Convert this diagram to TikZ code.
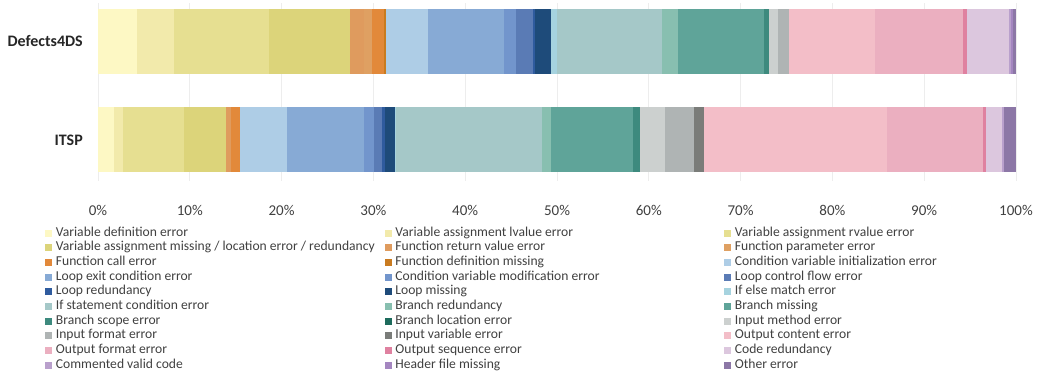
\documentclass[tikz,border=0pt]{standalone}
\usepackage{fontspec}
\setmainfont{Carlito}
\usepackage{tikz}
\usetikzlibrary{positioning}
\definecolor{textgray}{HTML}{404040}
\definecolor{gridgray}{HTML}{EDEDED}
\definecolor{cat1}{HTML}{FDF8C4}
\definecolor{cat2}{HTML}{F2EAAB}
\definecolor{cat3}{HTML}{E6DF91}
\definecolor{cat4}{HTML}{DCD47A}
\definecolor{cat5}{HTML}{DF9B5E}
\definecolor{cat6}{HTML}{DFA062}
\definecolor{cat7}{HTML}{E2893A}
\definecolor{cat8}{HTML}{C97B20}
\definecolor{cat9}{HTML}{AECDE6}
\definecolor{cat10}{HTML}{87AAD5}
\definecolor{cat11}{HTML}{7295CC}
\definecolor{cat12}{HTML}{5A7BB5}
\definecolor{cat13}{HTML}{2F5B9E}
\definecolor{cat14}{HTML}{1E4B7A}
\definecolor{cat15}{HTML}{A6D3DF}
\definecolor{cat16}{HTML}{A5C8C8}
\definecolor{cat17}{HTML}{88BFB0}
\definecolor{cat18}{HTML}{5FA499}
\definecolor{cat19}{HTML}{3D8A7E}
\definecolor{cat20}{HTML}{1D6B5C}
\definecolor{cat21}{HTML}{CCD0CF}
\definecolor{cat22}{HTML}{AFB4B4}
\definecolor{cat23}{HTML}{7A7C79}
\definecolor{cat24}{HTML}{F3BEC8}
\definecolor{cat25}{HTML}{EBAFC0}
\definecolor{cat26}{HTML}{DF81A0}
\definecolor{cat27}{HTML}{DCC7DE}
\definecolor{cat28}{HTML}{B9A0CC}
\definecolor{cat29}{HTML}{A486C0}
\definecolor{cat30}{HTML}{8C77A6}

\begin{document}
\begin{tikzpicture}[x=1pt, y=-1pt,
    swatch/.style={rectangle, 
      minimum size=7pt, 
      inner sep=0pt},
    legtext/.style={anchor=west, 
      inner sep=0pt, 
      text height=9pt, 
      text depth=3pt, 
      text=textgray, 
      font=\fontsize{13.6}{15}\selectfont},
    ticklabel/.style={inner sep=0pt, 
      text=textgray, 
      font=\fontsize{15}{17}\selectfont},
    barlabel/.style={anchor=east, 
      inner sep=0pt, 
      text=black!85, 
      font=\bfseries\fontsize{16}{18}\selectfont}]
  \useasboundingbox (0,0) rectangle (1042,376);

% GRID AND AXIS

  \foreach \p in {0,10,...,100} {
    \draw[gridgray, line width=0.8pt] ({98+9.18*\p},3) -- ({98+9.18*\p},181);
    \node[ticklabel] (tick\p) at ({98+9.18*\p},210) {\p\%};
  }

% BARS

  \node[barlabel] (defects) at (83,41) {Defects4DS};
  \node[barlabel] (itsp) at (83,140) {ITSP};

  \foreach \a/\b/\c in {0/4.25/1, 4.25/8.28/2, 8.28/18.6/3, 18.6/27.45/4, 
      27.45/29.0/5, 29.0/29.9/6, 29.9/31.2/7, 31.2/31.35/8, 31.35/35.95/9, 
      35.95/44.26/10, 44.26/45.53/11, 45.53/47.42/12, 47.42/47.6/13, 
      47.6/49.35/14, 49.35/49.97/15, 49.97/61.44/16, 61.44/63.18/17, 
      63.18/72.55/18, 72.55/73.13/19, 73.13/74.07/21, 74.07/75.3/22, 
      75.3/84.6/24, 84.6/94.19/25, 94.19/94.63/26, 94.63/99.27/27, 
      99.27/99.45/28, 99.45/99.7/29, 99.7/100/30}
    \fill[cat\c] ({98+9.18*\a},9) rectangle ({98+9.18*\b},73.5);

  \foreach \a/\b/\c in {0/1.71/1, 1.71/2.72/2, 2.72/9.37/3, 9.37/13.94/4, 
      13.94/14.46/5, 14.46/15.44/7, 15.44/20.59/9, 20.59/28.98/10, 
      28.98/30.07/11, 30.07/30.9/12, 30.9/31.26/13, 31.26/32.35/14, 
      32.35/32.46/15, 32.46/48.4/16, 48.4/49.35/17, 49.35/58.31/18, 
      58.31/59.04/19, 59.04/61.76/21, 61.76/64.96/22, 64.96/66.05/23, 
      66.05/85.95/24, 85.95/96.4/25, 96.4/96.73/26, 96.73/98.47/27, 
      98.47/98.66/28, 98.66/100/30}
    \fill[cat\c] ({98+9.18*\a},107) rectangle ({98+9.18*\b},171.5);

% LEGEND

  \foreach \txt [count=\n] in {Variable definition error, 
      Variable assignment lvalue error, 
      Variable assignment rvalue error, 
      Variable assignment missing / location error / redundancy, 
      Function return value error, 
      Function parameter error, 
      Function call error, 
      Function definition missing, 
      Condition variable initialization error, 
      Loop exit condition error, 
      Condition variable modification error, 
      Loop control flow error, 
      Loop redundancy, 
      Loop missing, 
      If else match error, 
      If statement condition error, 
      Branch redundancy, 
      Branch missing, 
      Branch scope error, 
      Branch location error, 
      Input method error, 
      Input format error, 
      Input variable error, 
      Output content error, 
      Output format error, 
      Output sequence error, 
      Code redundancy, 
      Commented valid code, 
      Header file missing, 
      Other error} {
    \pgfmathtruncatemacro{\col}{mod(\n-1,3)}
    \pgfmathtruncatemacro{\row}{(\n-1)/3}
    \node[swatch, fill=cat\n] (sw\n) at ({48.5+339.5*\col},{233.3+14.65*\row}) {};
    \node[legtext, right=3.5pt of sw\n] (leg\n) {\txt};
  }

\end{tikzpicture}
\end{document}
